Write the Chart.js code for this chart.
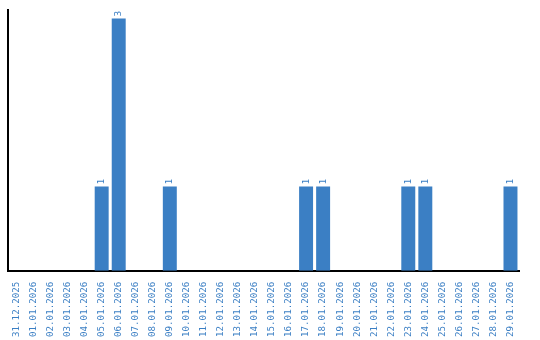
<!DOCTYPE html>
<html>
<head>
<meta charset="utf-8">
<script src="https://cdn.jsdelivr.net/npm/chart.js@4"></script>
<style>
  html, body { margin: 0; padding: 0; background: #fff; }
  #wrap { width: 540px; height: 340px; }
</style>
</head>
<body>
<div id="wrap"><canvas id="chart"></canvas></div>
<script>
// dates along the x axis
const days = [
    '31.12.2025', '01.01.2026', '02.01.2026', '03.01.2026', '04.01.2026',
    '05.01.2026', '06.01.2026', '07.01.2026', '08.01.2026', '09.01.2026',
    '10.01.2026', '11.01.2026', '12.01.2026', '13.01.2026', '14.01.2026',
    '15.01.2026', '16.01.2026', '17.01.2026', '18.01.2026', '19.01.2026',
    '20.01.2026', '21.01.2026', '22.01.2026', '23.01.2026', '24.01.2026',
    '25.01.2026', '26.01.2026', '27.01.2026', '28.01.2026', '29.01.2026'
];
// count per day
const counts = [
    0, 0, 0, 0, 0,
    1, 3, 0, 0, 1,
    0, 0, 0, 0, 0,
    0, 0, 1, 1, 0,
    0, 0, 0, 1, 1,
    0, 0, 0, 0, 1
];

const blue = '#3b7fc4';
const monoFont = '"DejaVu Sans Mono", monospace';

// value labels, rotated like the axis labels
const valueLabels = {
    id: 'valueLabels',
    afterDatasetsDraw(chart) {
        const ctx = chart.ctx;
        const meta = chart.getDatasetMeta(0);
        ctx.save();
        ctx.fillStyle = blue;
        ctx.font = '9.5px ' + monoFont;
        ctx.textAlign = 'left';
        ctx.textBaseline = 'middle';
        meta.data.forEach((bar, i) => {
            const v = counts[i];
            if (!v) return;
            ctx.save();
            ctx.translate(bar.x, bar.y - 2);
            ctx.rotate(-Math.PI / 2);
            ctx.fillText(String(v), 0, 0);
            ctx.restore();
        });
        ctx.restore();
    }
};

new Chart(document.getElementById('chart').getContext('2d'), {
    type: 'bar',
    data: {
        labels: days,
        datasets: [{
            data: counts,
            backgroundColor: blue,
            borderWidth: 0,
            barPercentage: 0.82,
            categoryPercentage: 1
        }]
    },
    options: {
        responsive: true,
        maintainAspectRatio: false,
        animation: false,
        layout: { padding: { left: 0, right: 21, top: 10, bottom: 0 } },
        plugins: {
            legend: { display: false },
            tooltip: { enabled: false }
        },
        scales: {
            x: {
                grid: { display: false },
                border: { display: true, color: '#000', width: 2 },
                ticks: {
                    color: blue,
                    font: { family: monoFont, size: 9.2 },
                    minRotation: 90,
                    maxRotation: 90,
                    autoSkip: false,
                    padding: 3
                }
            },
            y: {
                min: 0,
                max: 3.1,
                grid: { display: false },
                border: { display: true, color: '#000', width: 2 },
                ticks: { display: false }
            }
        }
    },
    plugins: [valueLabels]
});
</script>
</body>
</html>
